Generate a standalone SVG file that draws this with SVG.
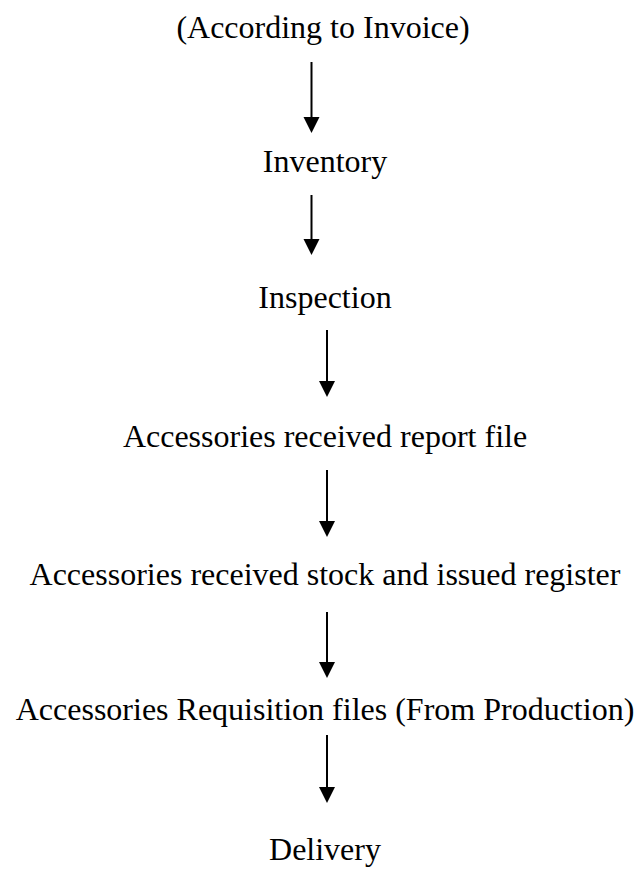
<svg xmlns="http://www.w3.org/2000/svg" width="637" height="869" viewBox="0 0 637 869">
  <defs>
    <style>
      .lbl { font-family: "Liberation Serif", "Times New Roman", serif; font-size: 32px; fill: #000; text-anchor: middle; }
      .edge { stroke: #000; stroke-width: 2; fill: none; }
    </style>
    <marker id="head" markerUnits="userSpaceOnUse" markerWidth="16" markerHeight="16" viewBox="0 0 16 16" refX="8" refY="16" orient="auto-start-reverse">
      <path d="M0,0 L16,0 L8,16 Z" fill="#000" transform="rotate(-90 8 8)"/>
    </marker>
  </defs>
  <rect width="637" height="869" fill="#fff"/>

  <g id="n1"><text class="lbl" x="323" y="38">(According to Invoice)</text></g>
  <g id="n2"><text class="lbl" x="325" y="172">Inventory</text></g>
  <g id="n3"><text class="lbl" x="325" y="308">Inspection</text></g>
  <g id="n4"><text class="lbl" x="325" y="447">Accessories received report file</text></g>
  <g id="n5"><text class="lbl" x="325" y="585">Accessories received stock and issued register</text></g>
  <g id="n6"><text class="lbl" x="325" y="720">Accessories Requisition files (From Production)</text></g>
  <g id="n7"><text class="lbl" x="325" y="860">Delivery</text></g>

  <g id="connectors">
    <path class="edge" d="M311.5,62 V117"/><path d="M303.5,117 H319.5 L311.5,133 Z"/>
    <path class="edge" d="M311.5,195 V239"/><path d="M303.5,239 H319.5 L311.5,255 Z"/>
    <path class="edge" d="M327,330 V381"/><path d="M319,381 H335 L327,397 Z"/>
    <path class="edge" d="M327,470 V521"/><path d="M319,521 H335 L327,537 Z"/>
    <path class="edge" d="M327,612 V662"/><path d="M319,662 H335 L327,678 Z"/>
    <path class="edge" d="M327,735 V787"/><path d="M319,787 H335 L327,803 Z"/>
  </g>
</svg>
